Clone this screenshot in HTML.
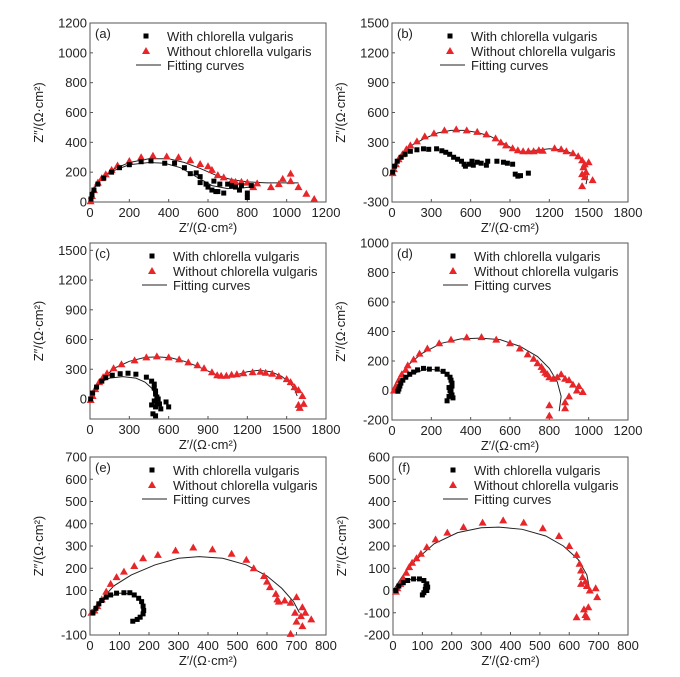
<!DOCTYPE html>
<html><head><meta charset="utf-8"><style>
html,body{margin:0;padding:0;background:#fff}
svg{display:block;font-family:"Liberation Sans",Arial,sans-serif}
</style></head><body>
<svg id="fig" width="680" height="677" viewBox="0 0 680 677" xmlns="http://www.w3.org/2000/svg"></svg>
<script>
// ---- data (x = Z', y = Z'') ----
const panelLabels = ["(a)","(b)","(c)","(d)","(e)","(f)"];
const xTicksA=[0,200,400,600,800,1000,1200], yTicksA=[0,200,400,600,800,1000,1200];
const xTicksB=[0,300,600,900,1200,1500,1800], yTicksB=[-300,0,300,600,900,1200,1500];
const xTicksC=[0,300,600,900,1200,1500,1800], yTicksC=[0,300,600,900,1200,1500];
const xTicksD=[0,200,400,600,800,1000,1200], yTicksD=[-200,0,200,400,600,800,1000];
const xTicksE=[0,100,200,300,400,500,600,700,800], yTicksE=[-100,0,100,200,300,400,500,600,700];
const xTicksF=[0,100,200,300,400,500,600,700,800], yTicksF=[-200,-100,0,100,200,300,400,500,600];

const withA=[[5,20],[10,50],[20,80],[40,120],[70,160],[110,200],[150,230],[200,250],[260,270],[310,275],[380,260],[430,260],[480,230],[510,190],[540,195],[560,170],[560,130],[590,120],[600,100],[620,80],[630,140],[640,70],[650,70],[660,120],[680,60],[700,120],[720,110],[740,100],[760,80],[770,110],[800,60],[800,30],[820,110]];
const withoutA=[[3,5],[10,40],[20,80],[40,130],[60,160],[80,185],[110,215],[140,245],[200,275],[260,300],[320,310],[390,305],[450,300],[510,280],[560,255],[600,240],[620,215],[650,180],[680,165],[720,140],[740,135],[770,135],[800,130],[830,100],[850,125],[920,100],[960,120],[980,155],[1020,190],[1020,140],[1060,100],[1100,55],[1140,20]];
const fitWithA=[[0,0],[20,90],[60,160],[120,210],[200,250],[300,265],[380,260],[460,230],[540,170],[620,110],[700,90],[780,95],[810,100]];
const fitWithoutA=[[0,0],[20,95],[60,165],[120,220],[200,265],[300,290],[400,290],[480,265],[560,225],[640,180],[720,150],[800,135],[900,128],[1000,128],[1060,128]];

const withB=[[5,0],[20,60],[40,110],[70,150],[100,180],[140,210],[190,225],[240,235],[280,230],[340,235],[380,215],[410,200],[440,180],[470,150],[500,130],[530,110],[550,80],[560,60],[590,80],[610,110],[620,70],[650,100],[680,90],[720,70],[730,110],[800,110],[850,100],[880,90],[920,80],[940,-20],[960,-40],[980,-35],[1040,-10]];
const withoutB=[[5,-10],[15,30],[30,80],[50,130],[80,180],[110,230],[140,270],[190,310],[250,360],[320,390],[400,420],[490,430],[570,420],[650,405],[720,380],[790,340],[830,300],[870,270],[920,240],[960,220],[1000,210],[1040,210],[1080,210],[1120,220],[1150,215],[1240,240],[1290,230],[1330,210],[1380,190],[1420,160],[1450,120],[1470,80],[1500,100],[1460,50],[1480,0],[1450,-20],[1470,-50],[1530,-80],[1450,-140]];
const fitWithB=[];
const fitWithoutB=[[0,0],[30,100],[80,190],[150,270],[250,340],[350,395],[450,420],[550,420],[650,400],[750,360],[850,290],[950,215],[1000,200],[1100,220],[1200,235],[1300,225],[1400,175],[1450,120],[1480,40],[1490,-50],[1480,-120]];

const withC=[[5,0],[20,60],[50,120],[90,180],[120,215],[170,240],[230,255],[290,260],[350,250],[430,220],[470,180],[490,150],[490,110],[500,80],[500,50],[510,20],[490,-20],[510,-50],[500,-80],[470,-60],[480,-150],[500,-170],[530,-50],[540,-100],[580,-30],[600,-80],[520,0]];
const withoutC=[[5,-10],[20,30],[40,100],[70,170],[100,220],[130,260],[180,310],[240,350],[340,390],[430,420],[510,430],[600,420],[680,400],[750,370],[820,340],[870,310],[930,270],[970,240],[1000,235],[1040,235],[1080,245],[1120,250],[1170,260],[1240,270],[1300,275],[1340,265],[1390,255],[1440,230],[1500,200],[1530,170],[1560,120],[1590,90],[1620,30],[1630,-50],[1590,-60],[1600,-90]];
const fitWithC=[[0,0],[30,100],[80,170],[150,210],[250,225],[350,210],[420,170],[470,110],[500,40],[510,-30]];
const fitWithoutC=[[0,0],[40,120],[100,220],[200,320],[300,380],[420,420],[520,425],[620,415],[720,380],[820,330],[920,270],[1000,225],[1050,220],[1120,245],[1200,275],[1290,290],[1380,275],[1460,230],[1520,170],[1560,100],[1580,30]];

const withD=[[30,-5],[35,10],[40,30],[45,50],[55,70],[70,90],[90,110],[110,125],[130,140],[160,150],[190,145],[230,145],[260,130],[280,110],[295,90],[300,70],[305,50],[305,30],[300,10],[300,-10],[305,-30],[290,-40],[280,-70],[310,-50],[295,0],[290,20]];
const withoutD=[[10,0],[20,30],[35,70],[50,110],[70,140],[80,170],[110,210],[140,250],[180,285],[240,320],[300,345],[380,360],[455,362],[530,345],[600,320],[650,285],[690,245],[720,215],[740,185],[760,160],[770,140],[780,120],[790,110],[800,90],[820,80],[840,90],[860,110],[880,80],[900,70],[920,40],[950,30],[940,0],[970,-10],[900,-40],[880,-80],[880,-120],[800,-100],[800,-170]];
const fitWithD=[[20,0],[50,60],[100,110],[170,145],[230,140],[280,110],[300,60],[305,0],[300,-60]];
const fitWithoutD=[[0,0],[30,80],[80,170],[150,250],[250,320],[350,350],[450,355],[550,345],[650,300],[740,230],[800,150],[840,60],[860,-40],[850,-140]];

const withE=[[10,0],[20,20],[30,40],[40,55],[55,70],[70,80],[90,88],[115,90],[135,90],[150,80],[165,65],[175,50],[180,30],[182,10],[180,-5],[170,-20],[160,-30],[145,-38]];
const withoutE=[[5,0],[15,10],[25,30],[40,60],[55,95],[70,130],[90,160],[115,185],[150,210],[180,245],[230,260],[290,280],[350,293],[415,285],[480,265],[530,238],[555,200],[590,165],[600,140],[610,115],[630,85],[635,60],[640,50],[660,55],[680,45],[700,70],[695,0],[720,25],[715,-15],[700,-40],[730,0],[720,-60],[750,-30],[680,-95]];
const fitWithE=[[0,0],[30,40],[60,70],[100,88],[140,85],[170,60],[180,20],[170,-20],[150,-35]];
const fitWithoutE=[[0,0],[40,60],[80,120],[140,170],[220,215],[300,245],[370,252],[450,245],[530,215],[600,165],[650,110],[690,50],[710,0]];

const withF=[[10,0],[20,20],[35,35],[50,45],[70,52],[90,52],[105,45],[115,30],[118,15],[115,0],[105,-10],[100,-20],[110,5],[112,20]];
const withoutF=[[10,-5],[15,10],[25,30],[35,55],[45,80],[55,105],[65,125],[80,145],[95,165],[115,195],[145,230],[185,260],[240,285],[305,305],[375,315],[445,305],[510,280],[565,245],[600,200],[625,160],[635,120],[640,90],[645,60],[640,30],[655,40],[660,20],[670,0],[690,10],[695,-30],[665,-75],[650,-85],[655,-110],[625,-120],[660,-120]];
const fitWithF=[[5,0],[30,30],[60,50],[90,50],[110,35],[115,10],[110,-10],[100,-20]];
const fitWithoutF=[[0,0],[40,80],[80,140],[140,210],[220,260],[300,282],[360,285],[440,275],[520,245],[580,200],[630,140],[660,70],[670,0]];

// ---- layout ----
const panels=[
 {L:90,R:326,T:23,B:202,xmin:0,xmax:1200,ymin:0,ymax:1200,xt:xTicksA,yt:yTicksA,w:withA,wo:withoutA,fw:fitWithA,fwo:fitWithoutA,lx:146},
 {L:392,R:628,T:23,B:202,xmin:0,xmax:1800,ymin:-300,ymax:1500,xt:xTicksB,yt:yTicksB,w:withB,wo:withoutB,fw:fitWithB,fwo:fitWithoutB,lx:450},
 {L:90,R:326,T:243,B:419,xmin:0,xmax:1800,ymin:-202,ymax:1574,xt:xTicksC,yt:yTicksC,w:withC,wo:withoutC,fw:fitWithC,fwo:fitWithoutC,lx:152},
 {L:392,R:628,T:243,B:420,xmin:0,xmax:1200,ymin:-200,ymax:1000,xt:xTicksD,yt:yTicksD,w:withD,wo:withoutD,fw:fitWithD,fwo:fitWithoutD,lx:453},
 {L:90,R:326,T:457,B:635,xmin:0,xmax:800,ymin:-100,ymax:700,xt:xTicksE,yt:yTicksE,w:withE,wo:withoutE,fw:fitWithE,fwo:fitWithoutE,lx:152},
 {L:393,R:628,T:457,B:635,xmin:0,xmax:800,ymin:-200,ymax:600,xt:xTicksF,yt:yTicksF,w:withF,wo:withoutF,fw:fitWithF,fwo:fitWithoutF,lx:453}
];
const NS="http://www.w3.org/2000/svg";
const svg=document.getElementById('fig');
function mk(tag,attrs,parent,text){const e=document.createElementNS(NS,tag);for(const k in attrs)e.setAttribute(k,attrs[k]);if(text!==undefined)e.textContent=text;(parent||svg).appendChild(e);return e;}

panels.forEach((p,i)=>{
  const g=mk('g',{});
  
  
  const sx=v=>p.L+(v-p.xmin)/(p.xmax-p.xmin)*(p.R-p.L);
  const sy=v=>p.B-(v-p.ymin)/(p.ymax-p.ymin)*(p.B-p.T);
  const fr=mk('rect',{x:p.L,y:p.T,width:p.R-p.L,height:p.B-p.T,fill:'#fff',stroke:'#555','stroke-width':1},g);
  
  
  p.xt.forEach(v=>{
    const x=sx(v);
    mk('line',{x1:x,x2:x,y1:p.B,y2:p.B-3,stroke:'#555'},g);
    const t=mk('text',{x:x,y:p.B+15,'font-size':13,'text-anchor':'middle',fill:'#222'},g,String(v));
    
    
  });
  p.yt.forEach(v=>{
    const y=sy(v);
    mk('line',{x1:p.L,x2:p.L+3,y1:y,y2:y,stroke:'#555'},g);
    const t=mk('text',{x:p.L-3,y:y+4.5,'font-size':13,'text-anchor':'end',fill:'#222'},g,String(v));
    
    
  });
  const xt=mk('text',{x:(p.L+p.R)/2,y:p.B+30,'font-size':13,'text-anchor':'middle',fill:'#222'},g,"Z′/(Ω·cm²)");
  
  
  const yx=p.L-47, yy=(p.T+p.B)/2;
  const yt=mk('text',{x:yx,y:yy,'font-size':13,'text-anchor':'middle',fill:'#222',transform:`rotate(-90 ${yx} ${yy})`},g,"Z″/(Ω·cm²)");
  
  
  const pl=mk('text',{x:p.L+5,y:p.T+15,'font-size':13,fill:'#222'},g,panelLabels[i]);
  
  
  // fits
  [p.fw,p.fwo].forEach(arr=>{
    if(!arr.length)return;
    const c=mk('polyline',{points:arr.map(d=>sx(d[0])+','+sy(d[1])).join(' '),fill:'none',stroke:'#222','stroke-width':1},g);
    
    
  });
  p.wo.forEach(d=>{
    const x=sx(d[0]),y=sy(d[1]);
    const m=mk('polygon',{points:`${x},${y-4} ${x-4},${y+3} ${x+4},${y+3}`,fill:'#e8262a'},g);
    
    
  });
  p.w.forEach(d=>{
    const x=sx(d[0]),y=sy(d[1]);
    const m=mk('rect',{x:x-2.5,y:y-2.5,width:5,height:5,fill:'#000'},g);
    
    
  });
  // legend
  const lg=mk('g',{},g);
  
  
  const r1=p.T+13,r2=p.T+28,r3=p.T+42;
  mk('rect',{x:p.lx-2.5,y:r1-2.5,width:5,height:5,fill:'#000'},lg);
  mk('polygon',{points:`${p.lx},${r2-4} ${p.lx-4},${r2+3} ${p.lx+4},${r2+3}`,fill:'#e8262a'},lg);
  mk('line',{x1:p.lx-10,x2:p.lx+15,y1:r3,y2:r3,stroke:'#222'},lg);
  mk('text',{x:p.lx+21,y:r1+5,'font-size':13,fill:'#222'},lg,"With chlorella vulgaris");
  mk('text',{x:p.lx+21,y:r2+5,'font-size':13,fill:'#222'},lg,"Without chlorella vulgaris");
  mk('text',{x:p.lx+21,y:r3+5,'font-size':13,fill:'#222'},lg,"Fitting curves");
});
</script>
</body></html>
